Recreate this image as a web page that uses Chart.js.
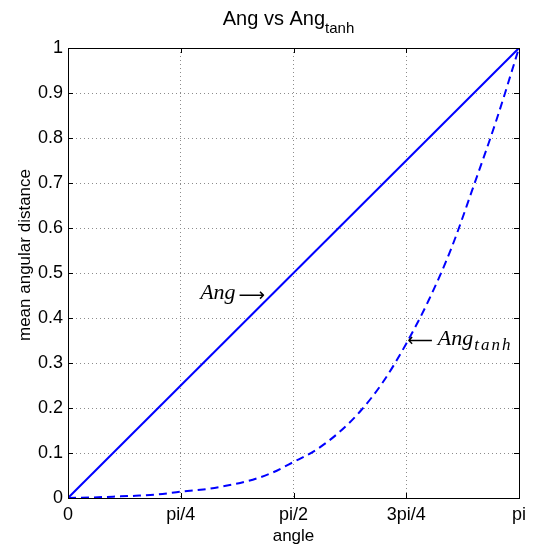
<!DOCTYPE html>
<html>
<head>
<meta charset="utf-8">
<script src="https://cdn.jsdelivr.net/npm/chart.js@4"></script>
<style>
  html, body { margin: 0; padding: 0; background: #fff; }
  #wrap { width: 534px; height: 546px; }
</style>
</head>
<body>
<div id="wrap"><canvas id="chart" width="534" height="546"></canvas></div>
<script>
// angle is given as a fraction of pi
const angleFrac = [0, 0.05, 0.1, 0.15, 0.2, 0.25, 0.3, 0.35, 0.4, 0.45, 0.5,
                   0.55, 0.6, 0.65, 0.7, 0.75, 0.8, 0.85, 0.9, 0.95, 1];
const angX = [0, 1];
const angValues = [0, 1];
const tanhValues = [0, 0.001, 0.003, 0.005, 0.008, 0.014, 0.019, 0.027, 0.038, 0.055, 0.08,
                    0.107, 0.145, 0.195, 0.26, 0.343, 0.44, 0.555, 0.695, 0.84, 1];
const xTickLabels = ['0', 'pi/4', 'pi/2', '3pi/4', 'pi'];
const yTickLabels = ['0', '0.1', '0.2', '0.3', '0.4', '0.5', '0.6', '0.7', '0.8', '0.9', '1'];

// arrow tips of the two text notes (data coords)
const angNote = { x: 0.437, y: 0.451 };
const tanhNote = { x: 0.752, y: 0.351 };

const SANS = "'Liberation Sans', Arial, sans-serif";
const SERIF = "'Liberation Serif', 'DejaVu Serif', serif";
const ARROW = "'DejaVu Sans', sans-serif";
const BLUE = '#0000ff';

// draw a long arrow glyph about 25px wide with its shaft centred on y
function drawArrow(ctx, ch, x, y, align) {
    ctx.textBaseline = 'alphabetic';
    ctx.textAlign = align;
    ctx.font = '20px ' + ARROW;
    let m = ctx.measureText(ch);
    const ink = m.actualBoundingBoxLeft + m.actualBoundingBoxRight;
    const size = Math.max(8, 20 * 25 / (ink || 25));
    ctx.font = size.toFixed(1) + 'px ' + ARROW;
    m = ctx.measureText(ch);
    const mid = (m.actualBoundingBoxAscent - m.actualBoundingBoxDescent) / 2;
    ctx.fillText(ch, x, y + mid);
    return m.width;
}

const decorPlugin = {
    id: 'decor',
    afterDraw(chart) {
        const ctx = chart.ctx;
        const area = chart.chartArea;
        const xs = chart.scales.x, ys = chart.scales.y;
        ctx.save();

        // box
        ctx.strokeStyle = '#000';
        ctx.lineWidth = 1;
        ctx.strokeRect(Math.round(area.left) + 0.5, Math.round(area.top) + 0.5,
            Math.round(area.right - area.left), Math.round(area.bottom - area.top));

        // inward ticks on all four sides
        ctx.beginPath();
        xs.ticks.forEach(t => {
            const px = Math.round(xs.getPixelForValue(t.value)) + 0.5;
            ctx.moveTo(px, area.bottom); ctx.lineTo(px, area.bottom - 5);
            ctx.moveTo(px, area.top); ctx.lineTo(px, area.top + 5);
        });
        ys.ticks.forEach(t => {
            const py = Math.round(ys.getPixelForValue(t.value)) + 0.5;
            ctx.moveTo(area.left, py); ctx.lineTo(area.left + 5, py);
            ctx.moveTo(area.right, py); ctx.lineTo(area.right - 5, py);
        });
        ctx.stroke();

        ctx.fillStyle = '#000';

        // title with subscript
        const main = 'Ang vs Ang', sub = 'tanh';
        ctx.font = '20px ' + SANS;
        const wMain = ctx.measureText(main).width;
        ctx.font = '15px ' + SANS;
        const wSub = ctx.measureText(sub).width;
        const cx = (area.left + area.right) / 2 - 5;
        let x0 = cx - (wMain + wSub) / 2;
        ctx.textAlign = 'left';
        ctx.textBaseline = 'alphabetic';
        ctx.font = '20px ' + SANS;
        ctx.fillText(main, x0, 25);
        ctx.font = '15px ' + SANS;
        ctx.fillText(sub, x0 + wMain, 33);

        // axis titles
        ctx.font = '17px ' + SANS;
        ctx.textAlign = 'center';
        ctx.fillText('angle', (area.left + area.right) / 2, 541);
        ctx.save();
        ctx.translate(30, 255);
        ctx.rotate(-Math.PI / 2);
        ctx.fillText('mean angular distance', 0, 0);
        ctx.restore();

        // note: Ang ->
        let tx = xs.getPixelForValue(angNote.x), ty = ys.getPixelForValue(angNote.y);
        const wArr = drawArrow(ctx, '\u27F6', tx, ty, 'right');
        ctx.font = 'italic 22px ' + SERIF;
        ctx.textAlign = 'right';
        ctx.fillText('Ang', tx - wArr - 3, ty + 4);

        // note: <- Ang_tanh
        tx = xs.getPixelForValue(tanhNote.x); ty = ys.getPixelForValue(tanhNote.y);
        const wArr2 = drawArrow(ctx, '\u27F5', tx, ty, 'left');
        ctx.font = 'italic 22px ' + SERIF;
        ctx.textAlign = 'left';
        const ax = tx + wArr2 + 5;
        ctx.fillText('Ang', ax, ty + 5);
        const wAng = ctx.measureText('Ang').width;
        ctx.font = 'italic 17px ' + SERIF;
        ctx.letterSpacing = '2px';
        ctx.fillText('tanh', ax + wAng + 1, ty + 10);
        ctx.letterSpacing = '0px';

        ctx.restore();
    }
};

const gridOpts = { color: '#8c8c8c', lineWidth: 1, drawTicks: false };

new Chart(document.getElementById('chart'), {
    type: 'line',
    data: {
        datasets: [{
            label: 'Ang',
            data: angX.map((x, i) => ({ x: x, y: angValues[i] })),
            borderColor: BLUE,
            borderWidth: 2,
            pointRadius: 0,
            fill: false
        }, {
            label: 'Ang_tanh',
            data: angleFrac.map((x, i) => ({ x: x, y: tanhValues[i] })),
            borderColor: BLUE,
            borderWidth: 2,
            borderDash: [8, 5],
            pointRadius: 0,
            cubicInterpolationMode: 'monotone',
            fill: false
        }]
    },
    options: {
        responsive: false,
        animation: false,
        layout: { padding: { top: 48, right: 15, left: 0, bottom: 0 } },
        plugins: { legend: { display: false }, tooltip: { enabled: false } },
        scales: {
            x: {
                type: 'linear', min: 0, max: 1,
                ticks: {
                    stepSize: 0.25, maxRotation: 0, padding: 6, color: '#000',
                    font: { family: SANS, size: 18 },
                    callback: (v, i) => xTickLabels[i]
                },
                grid: gridOpts,
                border: { display: false, dash: [1, 3] },
                afterFit: s => { s.height = 48; }
            },
            y: {
                type: 'linear', min: 0, max: 1,
                ticks: {
                    stepSize: 0.1, padding: 5, color: '#000',
                    font: { family: SANS, size: 18 },
                    callback: (v, i) => yTickLabels[i]
                },
                grid: gridOpts,
                border: { display: false, dash: [1, 3] },
                afterFit: s => { s.width = 68; }
            }
        }
    },
    plugins: [decorPlugin]
});
</script>
</body>
</html>
